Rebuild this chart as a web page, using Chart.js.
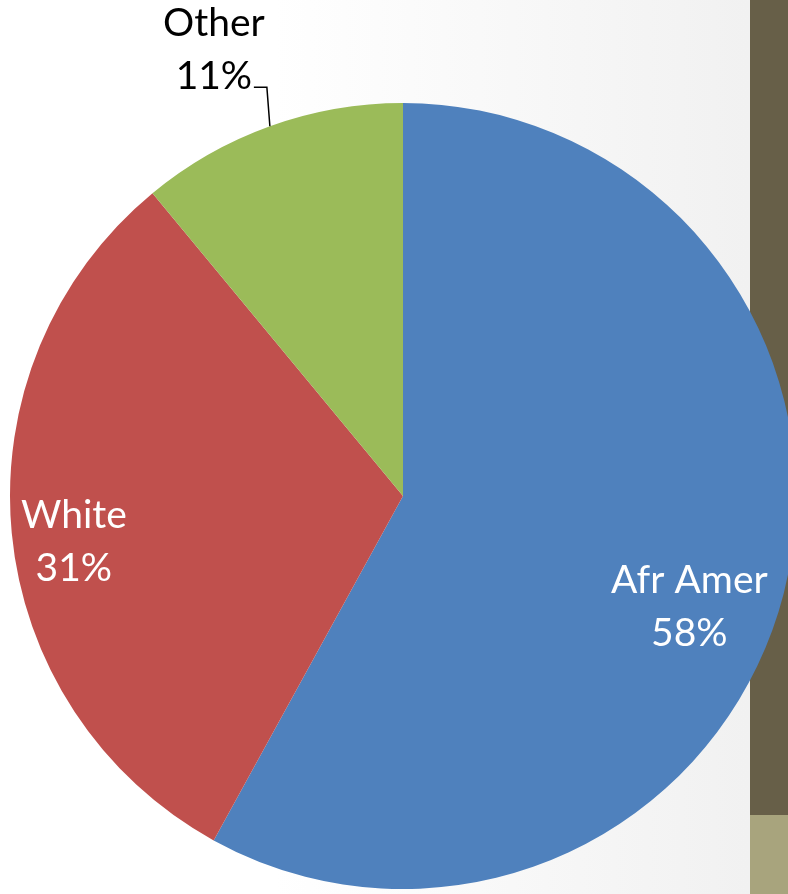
<!DOCTYPE html>
<html>
<head>
<meta charset="utf-8">
<script src="https://cdn.jsdelivr.net/npm/chart.js@4"></script>
<style>
  html, body { margin: 0; padding: 0; width: 788px; height: 894px; overflow: hidden; }
  body { position: relative; background: linear-gradient(to right, #ffffff 35%, #f1f1f1 95%); }
  .band { position: absolute; left: 750px; width: 38px; }
  #dark { top: 0; height: 815px; background: #675f48; }
  #light { top: 815px; height: 79px; background: #a8a47d; }
  #wrap { position: absolute; left: 3px; top: 0; width: 800px; height: 992px; }
</style>
</head>
<body>
<div class="band" id="dark"></div>
<div class="band" id="light"></div>
<div id="wrap"><canvas id="pieChart" width="800" height="992"></canvas></div>
<script>
// chart data
const categories = ['Afr Amer', 'White', 'Other'];
const shares = [58, 31, 11];
const sliceColors = ['#4f81bd', '#c0504d', '#9bbb59'];

// label placement per slice (fraction of radius, angle tweak in degrees, inside or outside)
const labelPlace = [
  { r: 0.78, dA: 6.5, inside: true },
  { r: 0.845, dA: -2.2, inside: true },
  { r: 0, dA: 0, inside: false }
];

const labelFont = '39px Lato, "Open Sans", sans-serif';

// draws the data labels the way the original chart shows them
const pieLabels = {
  id: 'pieLabels',
  afterDatasetsDraw(chart) {
    const c = chart.ctx;
    const meta = chart.getDatasetMeta(0);
    c.save();
    c.font = labelFont;
    c.textAlign = 'center';
    c.textBaseline = 'alphabetic';
    meta.data.forEach((arc, i) => {
      const p = labelPlace[i];
      const mid = (arc.startAngle + arc.endAngle) / 2;
      const pct = shares[i] + '%';
      if (p.inside) {
        const a = mid + p.dA * Math.PI / 180;
        const x = arc.x + Math.cos(a) * arc.outerRadius * p.r;
        const y = arc.y + Math.sin(a) * arc.outerRadius * p.r;
        c.fillStyle = '#ffffff';
        c.fillText(categories[i], x, y - 12);
        c.fillText(pct, x, y + 41);
      } else {
        // leader line from the slice edge up to the label
        const ex = arc.x + Math.cos(mid) * arc.outerRadius;
        const ey = arc.y + Math.sin(mid) * arc.outerRadius;
        const bendY = ey - 39;
        c.strokeStyle = '#000000';
        c.lineWidth = 1.5;
        c.beginPath();
        c.moveTo(ex, ey);
        c.lineTo(ex - 3, bendY);
        c.lineTo(ex - 16, bendY);
        c.stroke();
        const tx = ex - 56;
        c.fillStyle = '#000000';
        c.fillText(categories[i], tx, bendY - 51);
        c.fillText(pct, tx, bendY + 2);
      }
    });
    c.restore();
  }
};

const ctx = document.getElementById('pieChart').getContext('2d');
const pieChart = new Chart(ctx, {
  type: 'pie',
  data: {
    labels: categories,
    datasets: [{
      data: shares,
      backgroundColor: sliceColors,
      borderWidth: 0
    }]
  },
  options: {
    responsive: false,
    animation: false,
    radius: 393,
    layout: { padding: 0 },
    plugins: {
      legend: { display: false },
      tooltip: { enabled: false }
    }
  },
  plugins: [pieLabels]
});
</script>
</body>
</html>
